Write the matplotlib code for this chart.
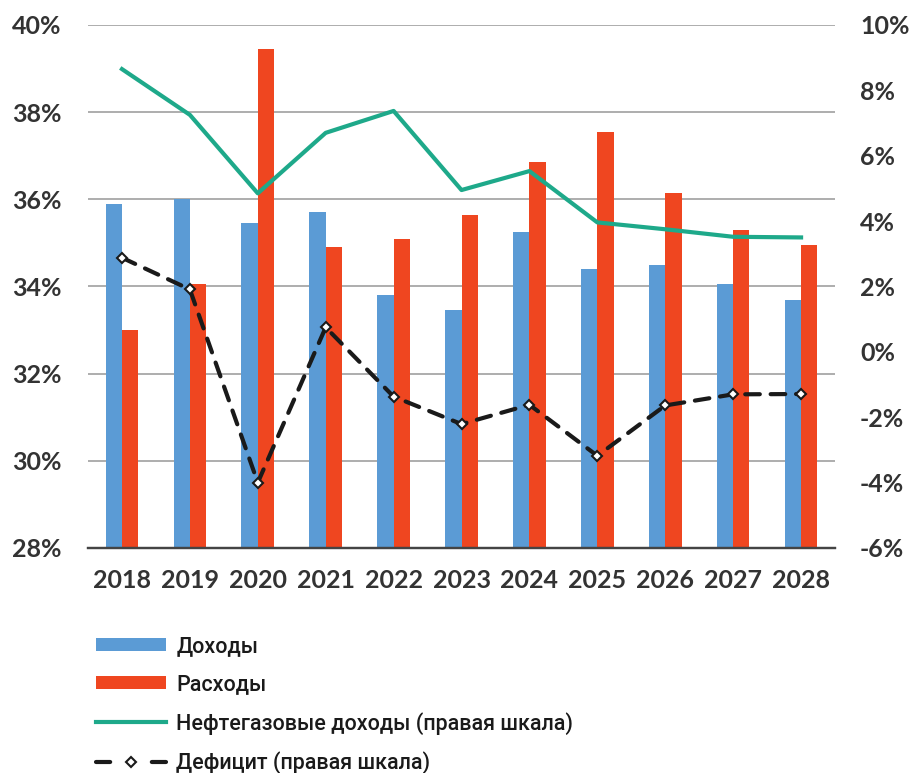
import numpy as np
import matplotlib
matplotlib.use("Agg")
import matplotlib.pyplot as plt
from matplotlib.patches import Patch
from matplotlib.lines import Line2D

# Data
years = ["2018", "2019", "2020", "2021", "2022", "2023", "2024", "2025", "2026", "2027", "2028"]
revenue = [35.9, 36.0, 35.45, 35.7, 33.8, 33.45, 35.25, 34.4, 34.5, 34.05, 33.7]
spending = [33.0, 34.05, 39.45, 34.9, 35.1, 35.65, 36.85, 37.55, 36.15, 35.3, 34.95]
oil_gas = [8.65, 7.25, 4.85, 6.7, 7.37, 4.95, 5.53, 3.96, 3.75, 3.52, 3.5]
deficit = [2.88, 1.91, -4.0, 0.75, -1.37, -2.21, -1.62, -3.18, -1.64, -1.3, -1.29]

left_ticks = [28, 30, 32, 34, 36, 38, 40]
right_ticks = [-6, -4, -2, 0, 2, 4, 6, 8, 10]

BLUE = "#5b9bd5"
RED = "#ef4620"
GREEN = "#1ea98a"
TEXT = "#333333"

fig = plt.figure(figsize=(9.11, 7.73), dpi=100)
ax1 = fig.add_axes([0.0966, 0.2911, 0.82, 0.6766])
ax2 = ax1.twinx()

x = np.arange(len(years))
w = 0.24
ax1.bar(x - w / 2, revenue, width=w, color=BLUE, zorder=2)
ax1.bar(x + w / 2, spending, width=w, color=RED, zorder=2)

ax1.set_ylim(28, 40)
ax1.set_xlim(-0.5, len(years) - 0.5)
ax1.set_yticks(left_ticks)
ax1.set_yticklabels([f"{t}%" for t in left_ticks])
ax1.set_xticks(x)
ax1.set_xticklabels(years)
ax1.yaxis.grid(True, color="#a0a0a0", linewidth=1.2)
ax1.set_axisbelow(True)

ax2.plot(x, oil_gas, color=GREEN, linewidth=3, solid_joinstyle="round", zorder=3)
ax2.plot(x, deficit, color="#1a1a1a", linewidth=3, linestyle=(0, (3.5, 2.6)),
         dash_capstyle="round", marker="D", markersize=5.5,
         markerfacecolor="white", markeredgecolor="#1a1a1a", markeredgewidth=1.5, zorder=4)
ax2.set_ylim(-6, 10)
ax2.set_yticks(right_ticks)
ax2.set_yticklabels([f"{t}%" for t in right_ticks])

for ax in (ax1, ax2):
    for side in ("left", "right", "top"):
        ax.spines[side].set_visible(False)
    ax.spines["bottom"].set_color("#444444")
    ax.spines["bottom"].set_linewidth(1.6)
    ax.tick_params(length=0, labelsize=18, labelcolor=TEXT)
    for lab in ax.get_yticklabels() + ax.get_xticklabels():
        lab.set_fontfamily("Lato")
        lab.set_fontweight("bold")

ax1.tick_params(axis="y", pad=19)
ax2.tick_params(axis="y", pad=18)
ax1.tick_params(axis="x", pad=15)

handles = [
    Patch(facecolor=BLUE),
    Patch(facecolor=RED),
    Line2D([], [], color=GREEN, linewidth=3),
    Line2D([], [], color="#1a1a1a", linewidth=3, linestyle=(0, (3.4, 10)),
           dash_capstyle="round", marker="D", markersize=5.5, markerfacecolor="white",
           markeredgecolor="#1a1a1a", markeredgewidth=1.5),
]
labels = ["Доходы", "Расходы", "Нефтегазовые доходы (правая шкала)", "Дефицит (правая шкала)"]
fig.legend(handles, labels, loc="upper left", bbox_to_anchor=(0.105, 0.177),
           frameon=False, handlelength=3.25, handleheight=0.55, handletextpad=0.5,
           labelspacing=0.78, borderaxespad=0, borderpad=0,
           prop={"family": "Roboto", "size": 15.5, "weight": "medium"}, labelcolor="#1a1a1a")

fig.savefig("out.png", dpi=100)
